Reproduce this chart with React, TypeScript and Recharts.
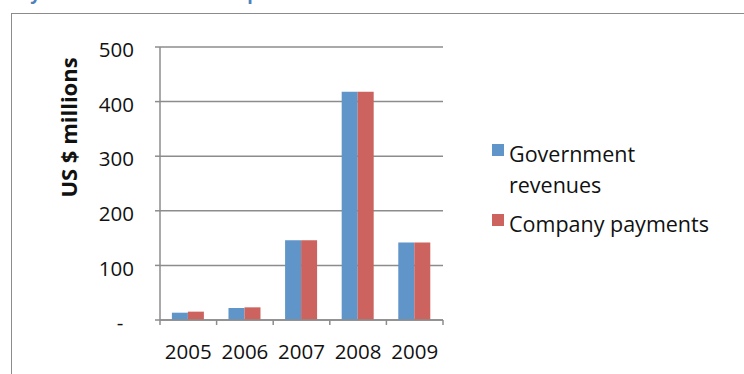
import { Bar, BarChart, CartesianGrid, XAxis, YAxis } from "recharts";

const years = ["2005", "2006", "2007", "2008", "2009"];
const governmentRevenues = [13.4, 22, 146, 418, 142];
const companyPayments = [15.3, 23.2, 146, 418, 142];
const yTicks = [0, 100, 200, 300, 400, 500];

const series = [
  { key: "gov", name: "Government revenues", color: "#5F95C8" },
  { key: "company", name: "Company payments", color: "#CC635F" },
];

const palette = {
  axis: "#8c8c8c",
  title: "#4F81BD",
  text: "#111111",
};

const font = "'Open Sans', 'Noto Sans', sans-serif";
const tickFontSize = 20.5;

const chartData = years.map((year, i) => ({
  year,
  gov: governmentRevenues[i],
  company: companyPayments[i],
}));

const YearTick = (props: any) => {
  const { x, y, payload, index } = props;
  const half = payload?.offset || 28.3;
  return (
    <g>
      <line x1={x - half} x2={x - half} y1={y} y2={y + 5} stroke={palette.axis} strokeWidth={1.5} />
      {index === years.length - 1 && (
        <line x1={x + half} x2={x + half} y1={y} y2={y + 5} stroke={palette.axis} strokeWidth={1.5} />
      )}
      <text x={x} y={y + 39} textAnchor="middle" fill={palette.text} fontSize={tickFontSize} fontFamily={font}>
        {payload.value}
      </text>
    </g>
  );
};

function LegendBox() {
  return (
    <div
      style={{
        position: "absolute",
        left: 492,
        top: 138,
        width: 250,
        fontFamily: font,
        fontSize: 21.5,
        lineHeight: "31px",
        color: palette.text,
      }}
    >
      {series.map((s) => (
        <div key={s.key} style={{ display: "flex", alignItems: "flex-start", marginBottom: 8 }}>
          <span
            style={{
              display: "inline-block",
              width: 12,
              height: 12,
              background: s.color,
              marginTop: 6,
              marginRight: 5,
              flex: "none",
            }}
          />
          <span style={{ width: 220 }}>{s.name}</span>
        </div>
      ))}
    </div>
  );
}

export default function App() {
  return (
    <div
      style={{
        position: "absolute",
        left: 0,
        top: 0,
        width: 744,
        height: 374,
        overflow: "hidden",
        background: "#fff",
      }}
    >
      <div
        style={{
          position: "absolute",
          left: 8,
          top: -19,
          fontFamily: font,
          fontWeight: 700,
          fontSize: 18,
          color: palette.title,
          whiteSpace: "nowrap",
        }}
      >
        Payments and revenues reported
      </div>
      <div
        style={{
          position: "absolute",
          left: 11,
          top: 13,
          width: 800,
          height: 400,
          borderLeft: `1.5px solid ${palette.axis}`,
          borderTop: `1.5px solid ${palette.axis}`,
        }}
      />
      <svg style={{ position: "absolute", left: 0, top: 0 }} width={744} height={374}>
        <text
          transform="translate(77,127.5) rotate(-90)"
          textAnchor="middle"
          fontFamily={font}
          fontWeight={700}
          fontSize={22}
          fill={palette.text}
        >
          US $ millions
        </text>
      </svg>
      <div style={{ position: "absolute", left: 0, top: 0 }}>
        <BarChart
          width={744}
          height={374}
          data={chartData}
          margin={{ top: 47, right: 301, bottom: 24, left: 100 }}
          barCategoryGap="21%"
          barGap={0}
        >
          <CartesianGrid horizontal vertical={false} stroke={palette.axis} strokeWidth={1.5} />
          <XAxis
            dataKey="year"
            interval={0}
            height={30}
            axisLine={{ stroke: palette.axis, strokeWidth: 1.5 }}
            tickLine={false}
            tickSize={0}
            tickMargin={0}
            tick={<YearTick />}
          />
          <YAxis
            width={60}
            domain={[0, 500]}
            ticks={yTicks}
            interval={0}
            tickSize={5}
            tickMargin={21}
            axisLine={{ stroke: palette.axis, strokeWidth: 1.5 }}
            tickLine={{ stroke: palette.axis, strokeWidth: 1.5 }}
            tick={{ fill: palette.text, fontSize: tickFontSize, fontFamily: font, dy: 3 }}
            tickFormatter={(v: number) => (v === 0 ? "-\u00A0\u00A0" : String(v))}
          />
          {series.map((s) => (
            <Bar key={s.key} dataKey={s.key} name={s.name} fill={s.color} isAnimationActive={false} />
          ))}
        </BarChart>
      </div>
      <LegendBox />
    </div>
  );
}
